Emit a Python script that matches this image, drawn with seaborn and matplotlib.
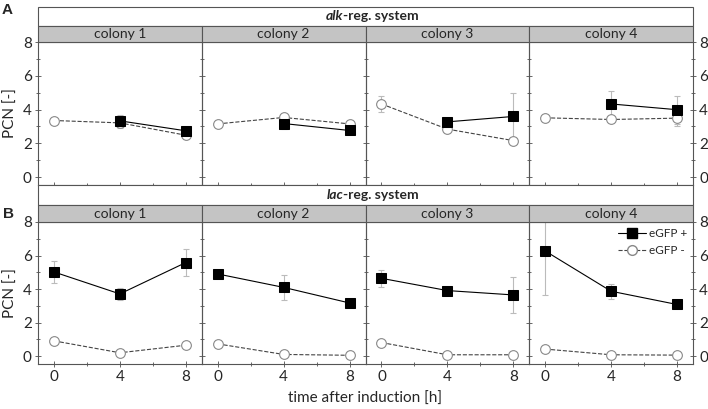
import numpy as np
import matplotlib
matplotlib.use("Agg")
import matplotlib.pyplot as plt
from matplotlib.patches import Rectangle
from matplotlib.lines import Line2D
import seaborn as sns

sns.set_style("white")
plt.rcParams['font.family'] = ['Lato', 'DejaVu Sans']

# data
times = [0, 4, 8]
colonies = ["colony 1", "colony 2", "colony 3", "colony 4"]
nan = np.nan

alk_pos = [[nan, 3.33, 2.74], [nan, 3.17, 2.76], [nan, 3.27, 3.59], [nan, 4.33, 3.99]]
alk_pos_err = [[nan, 0.35, 0.1], [nan, 0.33, 0.1], [nan, 0.1, 1.4], [nan, 0.78, 0.83]]
alk_neg = [[3.35, 3.21, 2.48], [3.15, 3.53, 3.15], [4.33, 2.84, 2.16], [3.51, 3.41, 3.49]]
alk_neg_err = [[0.05, 0.3, 0.2], [0.05, 0.1, 0.1], [0.5, 0.1, 0.1], [0.05, 0.1, 0.45]]

lac_pos = [[5.02, 3.71, 5.58], [4.90, 4.10, 3.17], [4.64, 3.91, 3.65], [6.27, 3.87, 3.08]]
lac_pos_err = [[0.63, 0.36, 0.83], [0.2, 0.75, 0.1], [0.5, 0.1, 1.08], [2.64, 0.44, 0.1]]
lac_neg = [[0.91, 0.20, 0.65], [0.73, 0.10, 0.05], [0.81, 0.08, 0.08], [0.42, 0.08, 0.06]]
lac_neg_err = [[0.1, 0.15, 0.1], [0.1, 0.15, 0.1], [0.1, 0.1, 0.15], [0.1, 0.1, 0.15]]

W, H = 708, 409
fig = plt.figure(figsize=(W / 100, H / 100), dpi=100)

def fx(px):
    return px / W

def fy(py):
    return 1 - py / H

left, right = 38, 693
pw = (right - left) / 4
edge = '#555555'
strip = '#c4c4c4'

blocks = [
    # title top, strip top, plot top, plot bottom
    ("alk", 7, 26, 42, 185, alk_pos, alk_pos_err, alk_neg, alk_neg_err),
    ("lac", 185, 205, 222, 364, lac_pos, lac_pos_err, lac_neg, lac_neg_err),
]

for bi, (name, t0, s0, p0, p1, pos, pos_err, neg, neg_err) in enumerate(blocks):
    # title band
    fig.patches.append(Rectangle((fx(left), fy(s0)), fx(right - left), fy(t0) - fy(s0),
                                 transform=fig.transFigure, facecolor='white',
                                 edgecolor=edge, lw=0.8, zorder=0))
    fig.text(fx(343), fy((t0 + s0) / 2), name, style='italic',
             weight='bold', fontsize=10, ha='right', va='center')
    fig.text(fx(343), fy((t0 + s0) / 2), "-reg. system",
             weight='bold', fontsize=10, ha='left', va='center')
    for ci in range(4):
        x0 = left + ci * pw
        fig.patches.append(Rectangle((fx(x0), fy(p0)), fx(pw), fy(s0) - fy(p0),
                                     transform=fig.transFigure, facecolor=strip,
                                     edgecolor=edge, lw=0.8, zorder=0))
        fig.text(fx(x0 + pw / 2), fy((s0 + p0) / 2), colonies[ci], fontsize=10,
                 ha='center', va='center')
        ax = fig.add_axes([fx(x0), fy(p1), fx(pw), fy(p0) - fy(p1)])
        ax.set_facecolor('none')
        ax.errorbar(times, pos[ci], yerr=pos_err[ci], fmt='none', ecolor='#bbbbbb',
                    elinewidth=0.8, capsize=2, capthick=0.8, zorder=1)
        ax.errorbar(times, neg[ci], yerr=neg_err[ci], fmt='none', ecolor='#bbbbbb',
                    elinewidth=0.8, capsize=2, capthick=0.8, zorder=1)
        sns.lineplot(x=times, y=neg[ci], ax=ax, color='#444444', lw=0.8,
                     linestyle='--', marker='o', markersize=7, markerfacecolor='white',
                     markeredgecolor='#888888', markeredgewidth=0.8, zorder=2)
        sns.lineplot(x=times, y=pos[ci], ax=ax, color='black', lw=0.8,
                     marker='s', markersize=7, markerfacecolor='black',
                     markeredgecolor='black', zorder=3)
        ax.set_xlim(-0.97, 8.97)
        ax.set_ylim(-0.47, 8)
        ax.set_xticks([0, 4, 8])
        ax.set_xticks([2, 6], minor=True)
        ax.set_yticks([0, 2, 4, 6, 8])
        ax.set_yticks([1, 3, 5, 7], minor=True)
        for s in ax.spines.values():
            s.set_color(edge)
            s.set_linewidth(0.8)
        ax.tick_params(which='both', direction='inout', color='#666666', width=0.7,
                       labelsize=11, pad=2)
        ax.tick_params(which='major', length=5)
        ax.tick_params(which='minor', length=3)
        ax.tick_params(axis='x', which='both', bottom=True, labelbottom=(bi == 1))
        ax.tick_params(axis='y', which='both', left=True, right=(ci == 3),
                       labelleft=(ci == 0), labelright=(ci == 3))
        ax.set_xlabel("")
        ax.set_ylabel("")
        if ci == 0:
            fig.text(fx(11), fy((p0 + p1) / 2), "PCN [-]", rotation=90, fontsize=11,
                     ha='center', va='center')
        if bi == 1 and ci == 3:
            handles = [
                Line2D([], [], color='black', lw=0.8, marker='s', markersize=7),
                Line2D([], [], color='#444444', lw=0.8, linestyle='--', marker='o',
                       markersize=7, markerfacecolor='white', markeredgecolor='#888888'),
            ]
            ax.legend(handles, ["eGFP +", "eGFP -"], loc='upper right', frameon=False,
                      fontsize=8.5, handlelength=2.4, handletextpad=0.2,
                      borderaxespad=0.1, labelspacing=0.5)

fig.text(fx(7), fy(10), "A", weight='bold', fontsize=11, ha='center', va='center',
         family=['Liberation Sans', 'DejaVu Sans'])
fig.text(fx(9), fy(214), "B", weight='bold', fontsize=11, ha='center', va='center',
         family=['Liberation Sans', 'DejaVu Sans'])
fig.text(fx((left + right) / 2), fy(399), "time after induction [h]", fontsize=11,
         ha='center', va='center')

fig.savefig("out.png", dpi=100)
